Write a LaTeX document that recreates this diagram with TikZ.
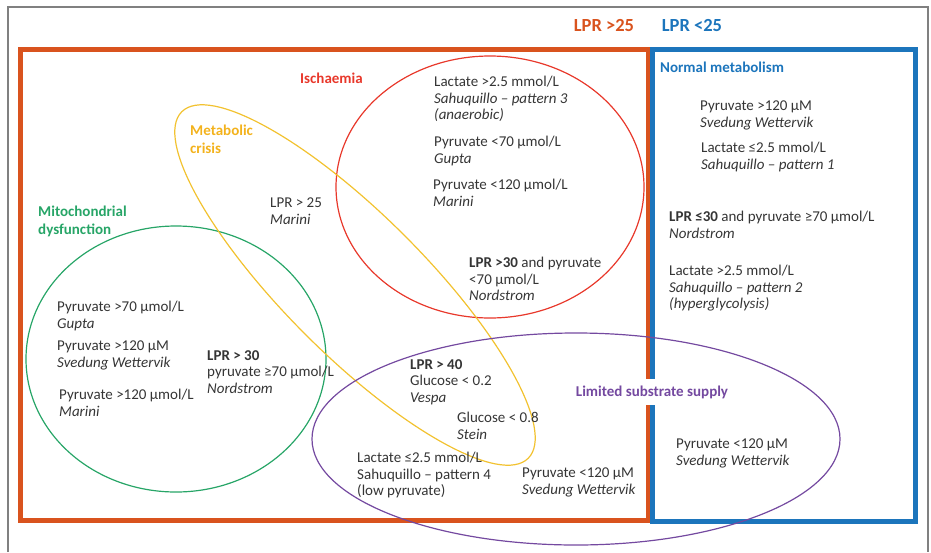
\documentclass[tikz,border=0pt]{standalone}
\usepackage{fontspec}
\setmainfont{Carlito}
\definecolor{lprorange}{HTML}{D9531E}
\definecolor{lprblue}{HTML}{1C75BC}
\definecolor{ischred}{HTML}{E8382B}
\definecolor{crisisyellow}{HTML}{F2C230}
\definecolor{crisistext}{HTML}{F3B21C}
\definecolor{mitogreen}{HTML}{27A567}
\definecolor{supplypurple}{HTML}{7449A0}
\definecolor{txtgray}{HTML}{353535}

\begin{document}
\begin{tikzpicture}[x=1pt, y=-1pt,
  txt/.style={anchor=north west, inner sep=0pt, align=left, text=txtgray, font=\fontsize{15}{16.6}\selectfont},
  grouplabel/.style={anchor=west, inner sep=0pt, align=left, font=\bfseries\fontsize{15}{18}\selectfont},
  lprhead/.style={font=\bfseries\fontsize{18.5}{20}\selectfont},
  ring/.style={line width=1.2pt}]
\useasboundingbox (0,0) rectangle (931,552);
% frame and the two LPR boxes
\draw [gray, line width=1.3pt] (8,552) -- (8,7) -- (928,7) -- (928,552);
\draw [lprorange, line width=5pt] (20.5,49) rectangle (648,520);
\draw [lprblue, line width=5pt] (652.5,49) rectangle (915.5,521);
\node (high) at (604,25) [lprhead, text=lprorange] {LPR >25};
\node (low) at (692,25) [lprhead, text=lprblue] {LPR <25};
% the four sets
\draw [ring, ischred] (490,187) ellipse [x radius=154, y radius=131];
\draw [ring, mitogreen] (176,359) ellipse [x radius=150, y radius=133];
\draw [ring, crisisyellow, rotate around={-45:(355,285)}] (355,285) ellipse [x radius=245, y radius=70];
\draw [ring, supplypurple] (576,439) ellipse [x radius=264, y radius=106];
% set names
\node (isch) at (300,78) [grouplabel, text=ischred] {Ischaemia};
\node (crisis) at (190,139) [grouplabel, text=crisistext] {Metabolic\\crisis};
\node (mito) at (38,221) [grouplabel, text=mitogreen] {Mitochondrial\\dysfunction};
\node (normal) at (660,67) [grouplabel, text=lprblue] {Normal metabolism};
\node (supply) at (652,392) [grouplabel, anchor=center, fill=white, inner xsep=3pt, inner ysep=7pt, text=supplypurple] {Limited substrate supply};
% ischaemia
\node (isch1) at (434,76) [txt] {Lactate >2.5 mmol/L\\\textit{Sahuquillo – pattern 3}\\\textit{(anaerobic)}};
\node (isch2) at (434,136) [txt] {Pyruvate <70 μmol/L\\\textit{Gupta}};
\node (isch3) at (433,179) [txt] {Pyruvate <120 μmol/L\\\textit{Marini}};
\node (isch4) at (469,257) [txt] {\textbf{LPR >30} and pyruvate\\<70 μmol/L\\\textit{Nordstrom}};
% metabolic crisis
\node (crisis1) at (270,198) [txt] {LPR > 25\\\textit{Marini}};
% normal metabolism
\node (norm1) at (700,101) [txt] {Pyruvate >120 μM\\\textit{Svedung Wettervik}};
\node (norm2) at (701,142) [txt] {Lactate ≤2.5 mmol/L\\\textit{Sahuquillo – pattern 1}};
\node (norm3) at (669,211) [txt] {\textbf{LPR ≤30} and pyruvate ≥70 μmol/L\\\textit{Nordstrom}};
\node (norm4) at (669,265) [txt] {Lactate >2.5 mmol/L\\\textit{Sahuquillo – pattern 2}\\\textit{(hyperglycolysis)}};
\node (norm5) at (676,439) [txt] {Pyruvate <120 μM\\\textit{Svedung Wettervik}};
% mitochondrial dysfunction
\node (mito1) at (57,301) [txt] {Pyruvate >70 μmol/L\\\textit{Gupta}};
\node (mito2) at (57,341) [txt] {Pyruvate >120 μM\\\textit{Svedung Wettervik}};
\node (mito3) at (59,389) [txt] {Pyruvate >120 μmol/L\\\textit{Marini}};
\node (mito4) at (207,350) [txt] {\textbf{LPR > 30}\\pyruvate ≥70 μmol/L\\\textit{Nordstrom}};
% limited substrate supply
\node (sup1) at (410,359) [txt] {\textbf{LPR > 40}\\Glucose < 0.2\\\textit{Vespa}};
\node (sup2) at (457,412) [txt] {Glucose < 0.8\\\textit{Stein}};
\node (sup3) at (357,452) [txt] {Lactate ≤2.5 mmol/L\\Sahuquillo – pattern 4\\(low pyruvate)};
\node (sup4) at (522,468) [txt] {Pyruvate <120 μM\\\textit{Svedung Wettervik}};
\end{tikzpicture}
\end{document}
